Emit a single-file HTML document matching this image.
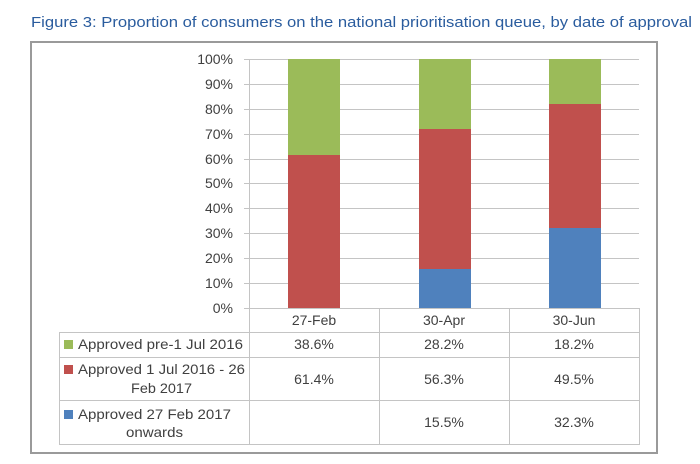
<!DOCTYPE html>
<html><head><meta charset="utf-8"><style>
html,body{margin:0;padding:0;background:#fff;}
svg{display:block;}
text{font-family:"Liberation Sans",Arial,sans-serif;}
</style></head><body>
<svg width="700" height="464" viewBox="0 0 700 464" xmlns="http://www.w3.org/2000/svg">
<rect width="700" height="464" fill="#fff"/>
<text x="31" y="27" font-size="15" fill="#2A5C9E" textLength="661" lengthAdjust="spacingAndGlyphs">Figure 3: Proportion of consumers on the national prioritisation queue, by date of approval</text>
<rect x="31" y="42" width="626" height="411" fill="#fff" stroke="#9a9a9a" stroke-width="2"/>
<g stroke="#c4c4c4" stroke-width="1">
<line x1="244" y1="59.5" x2="639" y2="59.5"/>
<line x1="244" y1="84.5" x2="639" y2="84.5"/>
<line x1="244" y1="109.5" x2="639" y2="109.5"/>
<line x1="244" y1="134.5" x2="639" y2="134.5"/>
<line x1="244" y1="159.5" x2="639" y2="159.5"/>
<line x1="244" y1="183.5" x2="639" y2="183.5"/>
<line x1="244" y1="208.5" x2="639" y2="208.5"/>
<line x1="244" y1="233.5" x2="639" y2="233.5"/>
<line x1="244" y1="258.5" x2="639" y2="258.5"/>
<line x1="244" y1="283.5" x2="639" y2="283.5"/>
<line x1="244" y1="308.5" x2="639" y2="308.5"/>
</g>
<!-- bars -->
<rect x="288" y="59" width="52" height="96" fill="#9BBB59"/>
<rect x="288" y="155" width="52" height="153" fill="#C0504D"/>
<rect x="419" y="59" width="52" height="70" fill="#9BBB59"/>
<rect x="419" y="129" width="52" height="140" fill="#C0504D"/>
<rect x="419" y="269" width="52" height="39" fill="#4F81BD"/>
<rect x="549" y="59" width="52" height="45" fill="#9BBB59"/>
<rect x="549" y="104" width="52" height="124" fill="#C0504D"/>
<rect x="549" y="228" width="52" height="80" fill="#4F81BD"/>
<!-- y labels -->
<g font-size="14" fill="#404040" text-anchor="end">
<text x="233" y="64">100%</text>
<text x="233" y="89">90%</text>
<text x="233" y="114">80%</text>
<text x="233" y="139">70%</text>
<text x="233" y="164">60%</text>
<text x="233" y="188">50%</text>
<text x="233" y="213">40%</text>
<text x="233" y="238">30%</text>
<text x="233" y="263">20%</text>
<text x="233" y="288">10%</text>
<text x="233" y="313">0%</text>
</g>
<!-- table lines -->
<g stroke="#c4c4c4" stroke-width="1">
<line x1="249.5" y1="59" x2="249.5" y2="444"/>
<line x1="379.5" y1="308" x2="379.5" y2="444"/>
<line x1="509.5" y1="308" x2="509.5" y2="444"/>
<line x1="639.5" y1="308" x2="639.5" y2="444"/>
<line x1="59.5" y1="332" x2="59.5" y2="444"/>
<line x1="59" y1="332.5" x2="640" y2="332.5"/>
<line x1="59" y1="357.5" x2="640" y2="357.5"/>
<line x1="59" y1="400.5" x2="640" y2="400.5"/>
<line x1="59" y1="444.5" x2="640" y2="444.5"/>
</g>
<g font-size="14" fill="#404040" text-anchor="middle">
<text x="314" y="325">27-Feb</text>
<text x="444" y="325">30-Apr</text>
<text x="574" y="325">30-Jun</text>
<text x="314" y="349">38.6%</text>
<text x="444" y="349">28.2%</text>
<text x="574" y="349">18.2%</text>
<text x="314" y="384">61.4%</text>
<text x="444" y="384">56.3%</text>
<text x="574" y="384">49.5%</text>
<text x="444" y="427">15.5%</text>
<text x="574" y="427">32.3%</text>
</g>
<rect x="64" y="340" width="9" height="9" fill="#9BBB59"/>
<rect x="64" y="365" width="9" height="9" fill="#C0504D"/>
<rect x="64" y="410" width="9" height="9" fill="#4F81BD"/>
<g font-size="14" fill="#404040">
<text x="78" y="349" textLength="165" lengthAdjust="spacingAndGlyphs">Approved pre-1 Jul 2016</text>
<text x="78" y="374" textLength="167" lengthAdjust="spacingAndGlyphs">Approved 1 Jul 2016 - 26</text>
<text x="131" y="393" textLength="61" lengthAdjust="spacingAndGlyphs">Feb 2017</text>
<text x="78" y="419" textLength="153" lengthAdjust="spacingAndGlyphs">Approved 27 Feb 2017</text>
<text x="126" y="437" textLength="57" lengthAdjust="spacingAndGlyphs">onwards</text>
</g>
</svg>
</body></html>
